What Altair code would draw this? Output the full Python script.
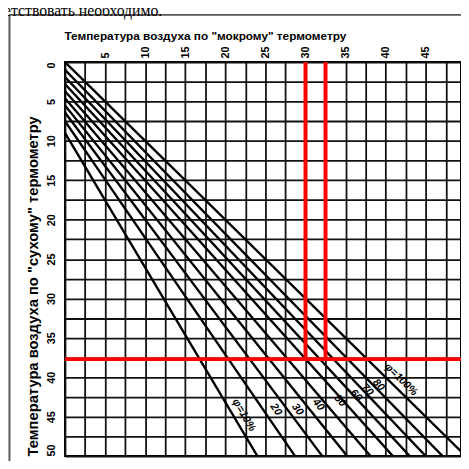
import altair as alt
import pandas as pd
import numpy as np

# ---- data ----
rh_names = ["10%", "20%", "30%", "40%", "50%", "60%", "70%", "80%", "90%", "100%"]
# dry-bulb temperature where each curve meets the left edge (wet-bulb = 0)
left_dry = [9.0, 7.5, 6.4, 5.5, 4.6, 3.7, 2.8, 1.9, 1.0, 0.0]
# wet-bulb temperature where each curve meets the bottom edge (dry-bulb = 50)
bottom_wet = [24.0, 28.7, 32.1, 35.2, 38.1, 40.9, 43.0, 45.0, 47.1, 50.0]

label_text = ["φ=10%", "20", "30", "40", "50", "60", "70", "80", "φ=100%"]
label_line = ["10%", "20%", "30%", "40%", "50%", "60%", "70%", "80%", "100%"]
label_wet = [22.3, 26.3, 29.0, 31.6, 34.3, 36.3, 37.7, 39.1, 41.9]
label_dry = [44.8, 44.1, 44.1, 43.5, 43.0, 42.3, 41.6, 41.0, 40.3]

red_wet = [30.0, 32.5]
red_dry = 37.7

grid_vals = [0, 2.5, 5, 7.5, 10, 12.5, 15, 17.5, 20, 22.5, 25, 27.5, 30,
             32.5, 35, 37.5, 40, 42.5, 45, 47.5, 50]

top_title = 'Температура воздуха по "мокрому" термометру'
left_title = 'Температура воздуха по "сухому" термометру'
doc_text = "соответствовать необходимо."

# ---- layout ----
W, H = 403, 401
X_MAX, Y_MAX = 49.4, 50.0
kx, ky = W / X_MAX, H / Y_MAX

# ---- tables ----
rows = []
for n, y0, x1 in zip(rh_names, left_dry, bottom_wet):
    rows.append({"rh": n, "wet": 0.0, "dry": y0})
    rows.append({"rh": n, "wet": x1, "dry": 50.0})
lines_df = pd.DataFrame(rows)

slope = {n: np.degrees(np.arctan2((50.0 - y0) * ky, x1 * kx))
         for n, y0, x1 in zip(rh_names, left_dry, bottom_wet)}
labels_df = pd.DataFrame({"t": label_text, "wet": label_wet, "dry": label_dry,
                          "angle": [slope[n] for n in label_line]})

red_v = pd.DataFrame({"wet": red_wet, "dry": [0.0] * len(red_wet), "dry2": [red_dry] * len(red_wet)})
red_h = pd.DataFrame({"wet": [0.0], "wet2": [X_MAX], "dry": [red_dry]})

FONT = "Liberation Sans"
xs = alt.Scale(domain=[0, X_MAX], nice=False, zero=False)
ys = alt.Scale(domain=[0, Y_MAX], nice=False, zero=False, reverse=True)

x_axis = alt.Axis(
    orient="top", values=grid_vals,
    labelExpr="(datum.value % 5 == 0 && datum.value > 0) ? datum.label : ''",
    labelAngle=270, labelAlign="left", labelBaseline="middle",
    labelFont=FONT, labelFontWeight="bold", labelFontSize=11, labelColor="#000",
    labelPadding=4, labelOverlap=False, labelBound=False, labelFlush=False,
    ticks=False, tickSize=0, domain=False,
    grid=True, gridColor="#111", gridWidth=1.8,
    title=top_title, titleFont=FONT, titleFontSize=12, titleFontWeight="bold",
    titleColor="#000", titleX=-1, titleY=-27, titleAlign="left",
    titleBaseline="middle", titleAngle=0,
)
y_axis = alt.Axis(
    orient="left", values=grid_vals,
    labelExpr="(datum.value % 5 == 0) ? datum.label : ''",
    labelAngle=270,
    labelAlign={"condition": [{"test": "datum.value == 0", "value": "right"},
                              {"test": "datum.value == 50", "value": "left"}],
                "value": "center"},
    labelBaseline="middle",
    labelFont=FONT, labelFontWeight="bold", labelFontSize=11, labelColor="#000",
    labelPadding=14, labelOverlap=False, labelBound=False, labelFlush=False,
    ticks=False, tickSize=0, domain=False,
    grid=True, gridColor="#111", gridWidth=1.8,
    title=left_title, titleFont=FONT, titleFontSize=15, titleFontWeight="bold",
    titleColor="#000", titleX=-33, titleY=401, titleAlign="left",
    titleBaseline="middle", titleAngle=270,
)

X = lambda f: alt.X(f, type="quantitative", scale=xs, axis=x_axis)
Y = lambda f: alt.Y(f, type="quantitative", scale=ys, axis=y_axis)

lines = alt.Chart(lines_df).mark_line(color="#000", strokeWidth=2.4, clip=True).encode(
    x=X("wet"), y=Y("dry"), detail="rh:N", order="dry:Q"
)

rv = alt.Chart(red_v).mark_rule(color="#ff0000", strokeWidth=4).encode(
    x=X("wet"), y=Y("dry"), y2="dry2"
)
rh = alt.Chart(red_h).mark_rule(color="#ff0000", strokeWidth=4).encode(
    x=X("wet"), x2="wet2", y=Y("dry")
)

labels = alt.Chart(labels_df).mark_text(
    font=FONT, fontWeight="bold", fontStyle="italic", fontSize=11, color="#000",
    align="center", baseline="middle"
).encode(x=X("wet"), y=Y("dry"), text="t:N", angle=alt.Angle("angle:Q", scale=None))

frame_df = pd.DataFrame({"k": [1]})
frame_left = alt.Chart(frame_df).mark_rule(color="#5a5552", strokeWidth=2).encode(
    x=alt.value(-56.5), y=alt.value(-48), y2=alt.value(420)
)
frame_top = alt.Chart(frame_df).mark_rule(color="#5a5552", strokeWidth=2).encode(
    x=alt.value(-57), x2=alt.value(420), y=alt.value(-48)
)
doc = alt.Chart(pd.DataFrame({"t": [doc_text]})).mark_text(
    font="Liberation Serif", fontSize=16, color="#000", align="right",
    baseline="alphabetic"
).encode(x=alt.value(99), y=alt.value(-47), text="t:N")

chart = alt.layer(lines, rv, rh, labels, frame_left, frame_top, doc).properties(
    width=W, height=H,
    padding={"left": 58, "top": 51, "right": 0, "bottom": 1},
    autosize=alt.AutoSizeParams(type="none"),
    background="#ffffff",
).configure_view(stroke="#000", strokeWidth=2)

chart.save("out.html", embed_options={"renderer": "svg", "actions": False})
